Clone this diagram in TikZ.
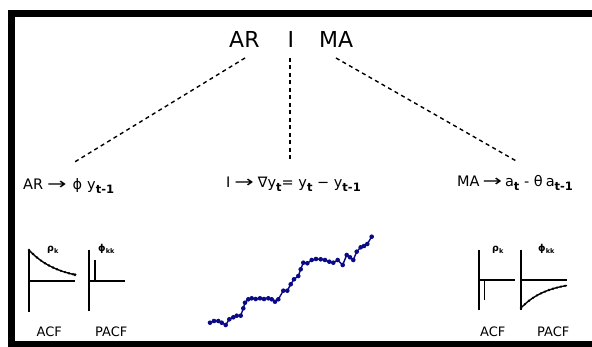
\documentclass[tikz,border=0pt]{standalone}
\usepackage{fontspec}
\setmainfont{DejaVu Sans}
\usepackage{graphicx}
\newcommand\rarr{\scalebox{1.6}[1.1]{→}}
\newcommand\sbs[1]{\raisebox{-0.45ex}{\fontsize{11.5}{11.5}\selectfont\bfseries #1}}
\newcommand\tsb[1]{\raisebox{-0.35ex}{\fontsize{6.5}{6.5}\selectfont\bfseries #1}}
\begin{document}
\begin{tikzpicture}[x=1pt,y=-1pt,
  txt/.style={inner sep=0pt,anchor=base west},
  title/.style={txt,font=\fontsize{22}{22}\selectfont},
  row/.style={txt,font=\fontsize{14.5}{14.5}\selectfont},
  small/.style={txt,font=\fontsize{13}{13}\selectfont},
  tiny/.style={txt,font=\fontsize{9.5}{9.5}\selectfont\bfseries},
  dashline/.style={line width=1.4pt,dash pattern=on 4pt off 3.5pt},
  axis/.style={line width=2pt},
  spike/.style={line width=1.5pt},
  curve/.style={line width=1.4pt},
  tsline/.style={line width=1.4pt,color=tsblue},
]
\definecolor{tsblue}{RGB}{10,10,135}
\useasboundingbox (0,0) rectangle (592,347);
\fill[white] (0,0) rectangle (592,347);
% frame
\fill[black] (8,10) rectangle (600,350);
\fill[white] (15,17) rectangle (600,341);

% title
\node[title] (ar) at (229,47.5) {AR};
\node[title] (i) at (287.5,47.5) {I};
\node[title] (ma) at (319,47.5) {MA};

% row labels
\node[row] (arl) at (23,190) {AR\hspace{4pt}\rarr\hspace{6pt}ϕ\hspace{5pt}y\sbs{t-1}};
\node[row] (il) at (226,188) {I\hspace{4pt}\rarr\hspace{4pt}∇y\sbs{t}= y\sbs{t} − y\sbs{t-1}};
\node[row] (mal) at (457,187) {MA\hspace{3pt}\rarr\hspace{3pt}a\sbs{t} - θ\hspace{3pt}a\sbs{t-1}};

% dashed connectors
\coordinate (arS) at (245,58);
\coordinate (iS) at (290,58);
\coordinate (maS) at (336,58);
\coordinate (arE) at (73,163);
\coordinate (iE) at (290,161);
\coordinate (maE) at (518,162);
\draw[dashline] (arS) -- (arE);
\draw[dashline] (iS) -- (iE);
\draw[dashline] (maS) -- (maE);

% left ACF
\draw[axis] (29,250) -- (29,312);
\draw[axis] (29,281) -- (75,281);
\draw[curve] plot[domain=0:46,samples=30,smooth] ({29+\x},{281-31*exp(-1.6*\x/46)+0.0});
\foreach \k in {0,4,...,44} \fill ({29+\k},{281-31*exp(-1.6*\k/46)}) circle (1.3pt);
\fill (75,{281-31*exp(-1.6)}) circle (1.7pt);
\node[tiny] (rl) at (47,252) {ρ\tsb{k}};
\node[small] (acfl) at (36.5,337) {ACF};
% left PACF
\draw[axis] (89,250) -- (89,311);
\draw[axis] (89,281) -- (125,281);
\draw[spike] (95,260) -- (95,281);
\node[tiny] (pl) at (98,252) {ϕ\tsb{kk}};
\node[small] (pacfl) at (95,337) {PACF};

% right ACF
\draw[axis] (479,250) -- (479,310);
\draw[axis] (479,280) -- (515,280);
\draw[spike] (484.5,280) -- (484.5,300);
\node[tiny] (rr) at (492,252) {ρ\tsb{k}};
\node[small] (acfr) at (480,337) {ACF};
% right PACF
\draw[axis] (521,250) -- (521,310);
\draw[axis] (521,280) -- (567,280);
\draw[curve] plot[domain=0:46,samples=30,smooth] ({521+\x},{281+27*exp(-1.8*\x/46)});
\foreach \k in {0,4,...,44} \fill ({521+\k},{281+27*exp(-1.8*\k/46)}) circle (1.3pt);
\node[tiny] (pr) at (538,252) {ϕ\tsb{kk}};
\node[small] (pacfr) at (537,337) {PACF};

% time series
\draw[tsline] plot coordinates {(210,322.7) (214,321) (218.3,321) (221.7,322.7) (225.7,325) (229.3,319.3) (233.3,317.3) (236.7,315.7) (240.7,315.7) (243.3,308.3) (245,302.7) (248.3,299.3) (251.7,298.3) (255.7,299) (260,298.3) (264,299) (268.3,298.3) (271.7,299.3) (275,301.7) (278.3,299.3) (283.3,290.7) (287.3,290.7) (290.7,284.3) (294,279.3) (298.3,276) (300.7,269.3) (303.3,262.7) (307.3,263.3) (311.7,260) (316,259) (320.7,259.3) (325,260) (329.3,261.7) (333.3,262.7) (337.7,260) (342.7,265) (346.7,255) (350,257.3) (353.3,260) (356.7,251.7) (360.7,247.3) (364,246) (367.3,244) (371.7,236.7)};
\foreach \p in {(210,322.7),(214,321),(218.3,321),(221.7,322.7),(225.7,325),(229.3,319.3),(233.3,317.3),(236.7,315.7),(240.7,315.7),(243.3,308.3),(245,302.7),(248.3,299.3),(251.7,298.3),(255.7,299),(260,298.3),(264,299),(268.3,298.3),(271.7,299.3),(275,301.7),(278.3,299.3),(283.3,290.7),(287.3,290.7),(290.7,284.3),(294,279.3),(298.3,276),(300.7,269.3),(303.3,262.7),(307.3,263.3),(311.7,260),(316,259),(320.7,259.3),(325,260),(329.3,261.7),(333.3,262.7),(337.7,260),(342.7,265),(346.7,255),(350,257.3),(353.3,260),(356.7,251.7),(360.7,247.3),(364,246),(367.3,244),(371.7,236.7)}
  \fill[tsblue] \p circle (2.3pt);
\end{tikzpicture}
\end{document}
